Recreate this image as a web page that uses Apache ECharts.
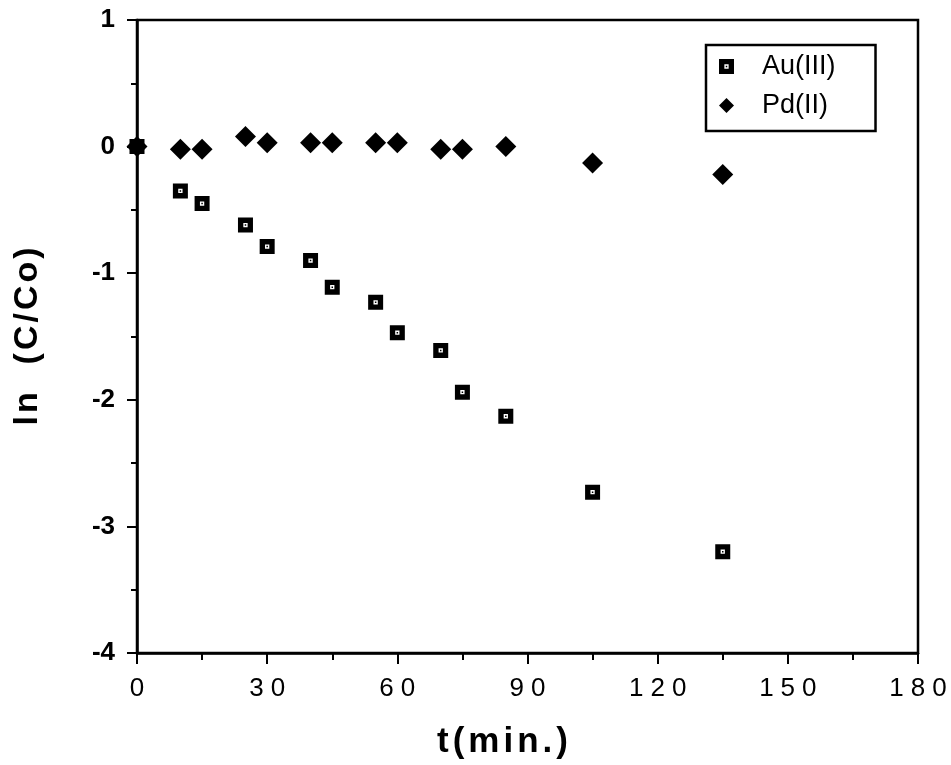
<!DOCTYPE html>
<html>
<head>
<meta charset="utf-8">
<script src="https://cdn.jsdelivr.net/npm/echarts@6/dist/echarts.min.js"></script>
<style>
html,body{margin:0;padding:0;background:#fff;}
#chart{width:951px;height:765px;}
</style>
</head>
<body>
<div id="chart"></div>
<script>
// Data
const timeAu = [0, 10, 15, 25, 30, 40, 45, 55, 60, 70, 75, 85, 105, 135];
const lnAu   = [0, -0.35, -0.45, -0.62, -0.79, -0.90, -1.11, -1.23, -1.47, -1.61, -1.94, -2.13, -2.73, -3.20];
const timePd = [0, 10, 15, 25, 30, 40, 45, 55, 60, 70, 75, 85, 105, 135];
const lnPd   = [0, -0.02, -0.02, 0.08, 0.03, 0.03, 0.03, 0.03, 0.03, -0.02, -0.02, 0.00, -0.13, -0.22];
const seriesNames = ['Au(III)', 'Pd(II)'];
const xTitle = 't(min.)';
const yTitle = 'ln  (C/Co)';

const FONT = '"Liberation Sans", Arial, Helvetica, sans-serif';

function spaced(text, style) {
  return text.split('').map(c => '{' + style + '|' + c + '}').join('');
}

const squareIcon = 'path://M0 0H14V14H0Z M5 5V9H9V5Z M6.3 6.3H7.7V7.7H6.3Z';

const chart = echarts.init(document.getElementById('chart'));
chart.setOption({
  backgroundColor: '#fff',
  animation: false,
  grid: {
    left: 137, right: 33, top: 20, bottom: 111,
    show: true, borderColor: '#000', borderWidth: 2.5, backgroundColor: 'transparent'
  },
  legend: {
    left: 706, top: 45,
    orient: 'vertical',
    data: seriesNames,
    itemWidth: 15, itemHeight: 15,
    itemGap: 12,
    padding: [8, 40, 12, 13],
    borderColor: '#000', borderWidth: 2.5,
    textStyle: { fontFamily: FONT, fontSize: 27, color: '#000', padding: [0, 0, 0, 23] }
  },
  xAxis: {
    type: 'value', min: 0, max: 180, interval: 30,
    name: spaced(xTitle, 'n'),
    nameLocation: 'middle', nameGap: 72,
    nameTextStyle: {
      padding: [0, 50, 0, 0],
      rich: { n: { fontFamily: FONT, fontSize: 35, fontWeight: 'bold', color: '#000', padding: [0, 2] } }
    },
    axisLine: { show: true, onZero: false, lineStyle: { color: '#000', width: 2.5 } },
    axisTick: { show: true, inside: false, length: 11, lineStyle: { color: '#000', width: 2 } },
    minorTick: { show: true, splitNumber: 2, length: 7, lineStyle: { color: '#000', width: 2 } },
    splitLine: { show: false },
    axisLabel: {
      margin: 23,
      formatter: v => spaced(String(v), 'd'),
      rich: { d: { fontFamily: FONT, fontSize: 26, color: '#000', padding: [0, 3.5] } }
    }
  },
  yAxis: {
    type: 'value', min: -4, max: 1, interval: 1,
    name: spaced(yTitle, 'n'),
    nameLocation: 'middle', nameGap: 92, nameRotate: 90,
    nameTextStyle: {
      rich: { n: { fontFamily: FONT, fontSize: 34, fontWeight: 'bold', color: '#000', padding: [0, 1.5] } }
    },
    axisLine: { show: true, onZero: false, lineStyle: { color: '#000', width: 2.5 } },
    axisTick: { show: true, inside: false, length: 10, lineStyle: { color: '#000', width: 2 } },
    minorTick: { show: true, splitNumber: 2, length: 6, lineStyle: { color: '#000', width: 2 } },
    splitLine: { show: false },
    axisLabel: {
      margin: 22,
      fontFamily: FONT, fontSize: 26, fontWeight: 'bold', color: '#000'
    }
  },
  series: [
    {
      name: seriesNames[0],
      type: 'scatter',
      symbol: squareIcon,
      symbolSize: 15,
      itemStyle: { color: '#000', opacity: 1 },
      data: timeAu.map((t, i) => [t, lnAu[i]]),
      z: 3
    },
    {
      name: seriesNames[1],
      type: 'scatter',
      symbol: 'diamond',
      symbolSize: 21,
      itemStyle: { color: '#000', opacity: 1 },
      data: timePd.map((t, i) => [t, lnPd[i]]),
      z: 2
    }
  ]
});
</script>
</body>
</html>
